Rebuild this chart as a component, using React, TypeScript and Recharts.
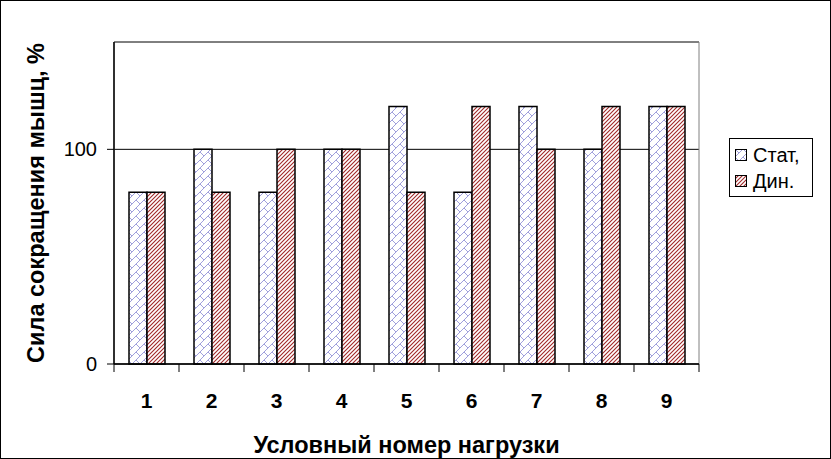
import React from "react";
import {
  BarChart,
  Bar,
  XAxis,
  YAxis,
  CartesianGrid,
  ReferenceArea,
  Label,
} from "recharts";

const categories = ["1", "2", "3", "4", "5", "6", "7", "8", "9"];
const statValues = [80, 100, 80, 100, 120, 80, 120, 100, 120];
const dinValues = [80, 80, 100, 100, 80, 120, 100, 120, 120];
const yTicks = [0, 100];
const seriesNames = ["Стат,", "Дин."];

const data = categories.map((c, i) => ({
  name: c,
  stat: statValues[i],
  din: dinValues[i],
}));

const FONT = '"Liberation Sans", Arial, sans-serif';
const W = 831;
const H = 459;
const PLOT_LEFT = 114;
const PLOT_RIGHT = 699;
const PLOT_BOTTOM = 364;
const BAND = (PLOT_RIGHT - PLOT_LEFT) / categories.length;

const XTick = (props: any) => {
  const { x, payload, index } = props;
  const top = PLOT_BOTTOM;
  return (
    <g>
      <line x1={x - BAND / 2} x2={x - BAND / 2} y1={top} y2={top + 8} stroke="#000" strokeWidth={1} />
      {index === categories.length - 1 && (
        <line x1={x + BAND / 2} x2={x + BAND / 2} y1={top} y2={top + 8} stroke="#000" strokeWidth={1} />
      )}
      <text x={x} y={top + 44} textAnchor="middle" fontFamily={FONT} fontWeight="bold" fontSize={21} fill="#000">
        {payload.value}
      </text>
    </g>
  );
};

const LegendBox = () => (
  <div
    style={{
      position: "absolute",
      left: 729,
      top: 138,
      border: "1px solid #000",
      background: "#fff",
      width: 84,
      height: 59,
      boxSizing: "border-box",
      fontFamily: FONT,
      fontSize: 20,
      color: "#000",
      padding: "3px 0 0 5px",
    }}
  >
    {["url(#patStat)", "url(#patDin)"].map((f, i) => (
      <div key={i} style={{ display: "flex", alignItems: "center", height: 26 }}>
        <svg width={13} height={13} style={{ marginRight: 5 }}>
          <rect x={0.5} y={0.5} width={11} height={11} fill={f} stroke="#000" strokeWidth={1} />
        </svg>
        <span>{seriesNames[i]}</span>
      </div>
    ))}
  </div>
);

export default function App() {
  return (
    <div style={{ position: "absolute", left: 0, top: 0, width: W, height: H, background: "#fff" }}>
      <BarChart
        width={W}
        height={H}
        data={data}
        margin={{ top: 42, right: W - PLOT_RIGHT, bottom: 0, left: 0 }}
        barGap={0}
        barSize={18}
      >
        <defs>
          <pattern id="patStat" patternUnits="userSpaceOnUse" width="8" height="8">
            <rect width="8" height="8" fill="#fff" />
            <path d="M0,8 L8,0" stroke="#a0a0dc" strokeWidth="1" />
            <path d="M0,0 L4,4" stroke="#a0a0dc" strokeWidth="1" />
          </pattern>
          <pattern id="patDin" patternUnits="userSpaceOnUse" width="4" height="4">
            <rect width="4" height="4" fill="#fff" />
            <path d="M-1,1 L1,-1 M0,4 L4,0 M3,5 L5,3" stroke="#a02828" strokeWidth="1.1" />
          </pattern>
        </defs>
        <ReferenceArea y1={0} y2={150} fill="none" stroke="#808080" strokeWidth={1} ifOverflow="visible" />
        <CartesianGrid vertical={false} stroke="#000" strokeWidth={1} />
        <XAxis
          dataKey="name"
          axisLine={{ stroke: "#000", strokeWidth: 1.5 }}
          tickLine={false}
          tickSize={0}
          tickMargin={0}
          tick={<XTick />}
          height={95}
          interval={0}
        >
          <Label
            value="Условный номер нагрузки"
            position="insideBottom"
            offset={6}
            style={{ fontFamily: FONT, fontSize: 23.5, fontWeight: "bold", fill: "#000" }}
          />
        </XAxis>
        <YAxis
          domain={[0, 150]}
          ticks={yTicks}
          width={PLOT_LEFT}
          axisLine={{ stroke: "#000", strokeWidth: 1.5 }}
          tickLine={{ stroke: "#000" }}
          tickSize={7}
          tickMargin={10}
          tick={{ fontFamily: FONT, fontSize: 20, fill: "#000" }}
        >
          <Label
            value="Сила сокращения мышц, %"
            angle={-90}
            position="insideLeft"
            offset={36}
            style={{ fontFamily: FONT, fontSize: 23.5, fontWeight: "bold", fill: "#000", textAnchor: "middle" }}
          />
        </YAxis>
        <Bar dataKey="stat" name={seriesNames[0]} fill="url(#patStat)" stroke="#000" strokeWidth={1.5} isAnimationActive={false} />
        <Bar dataKey="din" name={seriesNames[1]} fill="url(#patDin)" stroke="#000" strokeWidth={1.5} isAnimationActive={false} />
      </BarChart>
      <LegendBox />
      <div
        style={{
          position: "absolute",
          left: 0,
          top: 0,
          width: W,
          height: H,
          border: "1px solid #000",
          boxSizing: "border-box",
          pointerEvents: "none",
        }}
      />
    </div>
  );
}
